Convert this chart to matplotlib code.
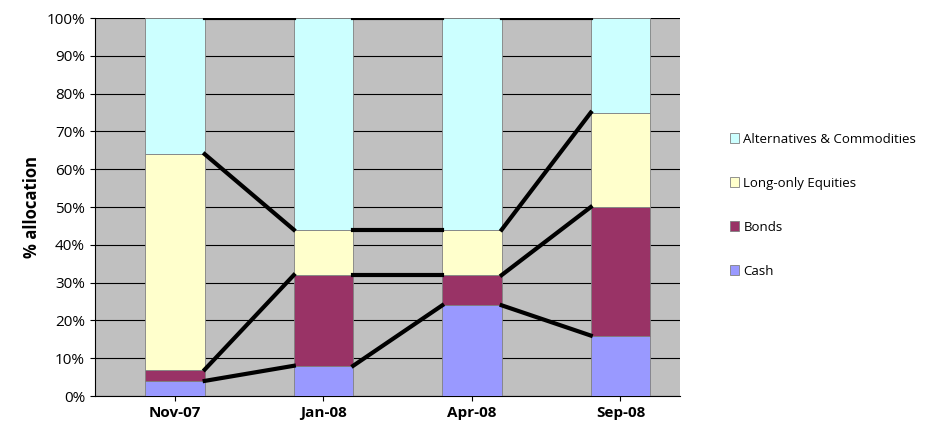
import numpy as np
import matplotlib.pyplot as plt

dates = ['Nov-07', 'Jan-08', 'Apr-08', 'Sep-08']
cash = [4, 8, 24, 16]
bonds = [3, 24, 8, 34]
equities = [57, 12, 12, 25]
alternatives = [36, 56, 56, 25]

series = [('Cash', cash, '#9999FF'),
          ('Bonds', bonds, '#993366'),
          ('Long-only Equities', equities, '#FFFFCC'),
          ('Alternatives & Commodities', alternatives, '#CCFFFF')]

plt.rcParams['font.family'] = ['Open Sans', 'DejaVu Sans']
fig = plt.figure(figsize=(9.39, 4.41), dpi=100)
ax = fig.add_axes([0.101, 0.102, 0.623, 0.857])
ax.set_facecolor('#C0C0C0')

x = np.arange(len(dates))
w = 0.4
bottom = np.zeros(len(dates))
handles = []
for name, vals, col in series:
    b = ax.bar(x, vals, w, bottom=bottom, color=col, edgecolor='#808080', linewidth=0.6, zorder=3, label=name)
    handles.append(b)
    bottom = bottom + np.array(vals)
    for i in range(len(dates) - 1):
        ax.plot([x[i] + w / 2, x[i + 1] - w / 2], [bottom[i], bottom[i + 1]], color='black', lw=3, zorder=4)

ax.set_ylim(0, 100)
ax.set_xlim(-0.54, 3.4)
ax.set_yticks(range(0, 101, 10))
ax.set_yticklabels([f'{v}%' for v in range(0, 101, 10)], fontsize=11)
ax.set_xticks(x)
ax.set_xticklabels(dates, fontsize=11, fontweight='bold')
ax.yaxis.grid(True, color='black', lw=0.8, zorder=0)
ax.set_ylabel('% allocation', fontsize=12, fontweight='bold')
for s in ['top', 'right']:
    ax.spines[s].set_visible(False)

fig.legend(handles[::-1], [s[0] for s in series][::-1], loc='center left', bbox_to_anchor=(0.765, 0.535),
           frameon=False, fontsize=9.5, handlelength=0.7, handleheight=0.7, labelspacing=2.35, handletextpad=0.3)
fig.savefig('out.png')
